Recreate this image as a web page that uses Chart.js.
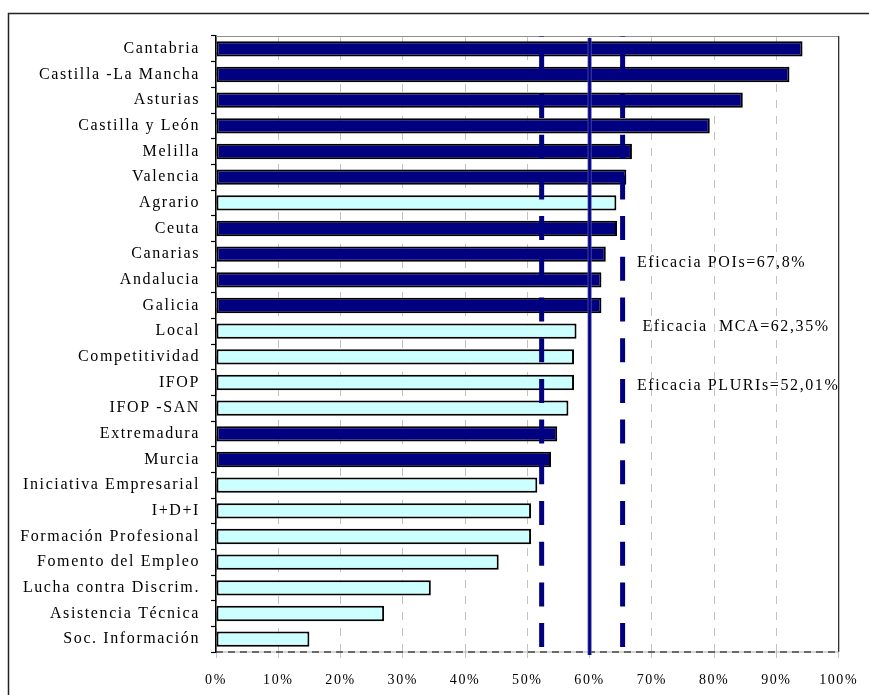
<!DOCTYPE html>
<html>
<head>
<meta charset="utf-8">
<script src="https://cdn.jsdelivr.net/npm/chart.js@4/dist/chart.umd.min.js"></script>
<style>
  html,body{margin:0;padding:0;background:#fff;}
  #wrap{position:relative;width:869px;height:695px;}
</style>
</head>
<body>
<div id="wrap"><canvas id="c"></canvas></div>
<script>
// ---- data ----
const categories = ['Cantabria','Castilla -La Mancha','Asturias','Castilla y León','Melilla','Valencia','Agrario','Ceuta','Canarias','Andalucia','Galicia','Local','Competitividad','IFOP','IFOP -SAN','Extremadura','Murcia','Iniciativa Empresarial','I+D+I','Formación Profesional','Fomento del Empleo','Lucha contra Discrim.','Asistencia Técnica','Soc. Información'];
const values = [94.2, 92.1, 84.6, 79.3, 66.8, 65.9, 64.3, 64.4, 62.6, 61.9, 61.9, 57.9, 57.5, 57.5, 56.6, 54.8, 53.8, 51.6, 50.6, 50.6, 45.4, 34.5, 27.0, 15.0];
const groups = ['R','R','R','R','R','R','T','R','R','R','R','T','T','T','T','R','R','T','T','T','T','T','T','T'];
const solidLineValue = 60;
const dashedLineValues = [52.3, 65.3];
const annotationTexts = ['Eficacia POIs=67,8%', 'Eficacia  MCA=62,35%', 'Eficacia PLURIs=52,01%'];

const NAVY = '#000080', CYAN = '#CCFFFF';
const FONT = '"Liberation Serif", "Times New Roman", serif';

const framePlugin = {
  id: 'frame',
  beforeDraw(chart) {
    const c = chart.ctx;
    c.save();
    c.fillStyle = '#fff';
    c.fillRect(0, 0, chart.width, chart.height);
    c.strokeStyle = '#222';
    c.lineWidth = 1.5;
    c.strokeRect(8.5, 13.5, chart.width + 40, chart.height + 40);
    c.restore();
    c.letterSpacing = '1.6px';
  },
  afterDatasetsDraw(chart) {
    const c = chart.ctx;
    const xs = chart.scales.x;
    const {top, bottom, left, right} = chart.chartArea;
    c.save();
    // plot frame
    c.strokeStyle = '#909090'; c.lineWidth = 1;
    c.beginPath(); c.moveTo(left, top + 0.5); c.lineTo(right, top + 0.5); c.stroke();
    c.strokeStyle = '#303030'; c.lineWidth = 1.3;
    c.beginPath(); c.moveTo(right, top); c.lineTo(right, bottom); c.stroke();
    c.strokeStyle = '#b0b0b0'; c.lineWidth = 1.2;
    c.beginPath(); c.moveTo(left, bottom); c.lineTo(right, bottom); c.stroke();
    c.strokeStyle = '#000'; c.setLineDash([7, 5]);
    c.beginPath(); c.moveTo(left, bottom); c.lineTo(right, bottom); c.stroke();
    // dashed reference lines
    c.setLineDash([24, 16.7]);
    c.lineDashOffset = 23.4;
    c.strokeStyle = NAVY; c.lineWidth = 5;
    dashedLineValues.forEach(v => {
      const px = xs.getPixelForValue(v);
      c.beginPath(); c.moveTo(px, top); c.lineTo(px, bottom); c.stroke();
    });
    // solid reference line
    c.setLineDash([]);
    const sx = xs.getPixelForValue(solidLineValue);
    c.strokeStyle = '#5050b0'; c.lineWidth = 4;
    c.beginPath(); c.moveTo(sx, top + 2); c.lineTo(sx, bottom + 3); c.stroke();
    c.strokeStyle = NAVY; c.lineWidth = 2.4;
    c.beginPath(); c.moveTo(sx, top + 2); c.lineTo(sx, bottom + 3); c.stroke();
    // annotations
    c.fillStyle = '#000';
    c.font = '16px ' + FONT;
    c.textBaseline = 'middle';
    c.textAlign = 'left';
    const pos = [[421, 227], [426.5, 291], [421, 350]];
    annotationTexts.forEach((t, i) => {
      c.fillText(t, left + pos[i][0], top + pos[i][1]);
    });
    c.restore();
  }
};

new Chart(document.getElementById('c'), {
  type: 'bar',
  data: {
    labels: categories,
    datasets: [{
      data: values,
      backgroundColor: groups.map(g => g === 'R' ? NAVY : CYAN),
      borderColor: '#000',
      borderWidth: 2,
      borderSkipped: false,
      barPercentage: 0.6,
      categoryPercentage: 1
    }]
  },
  options: {
    indexAxis: 'y',
    responsive: true,
    maintainAspectRatio: false,
    animation: false,
    devicePixelRatio: 1,
    layout: { padding: { left: 0, top: 36, right: 30, bottom: 0 } },
    plugins: { legend: { display: false }, tooltip: { enabled: false } },
    scales: {
      x: {
        min: 0, max: 100,
        afterFit(s) { s.height = 43; },
        ticks: {
          stepSize: 10,
          callback: v => v + '%',
          color: '#000',
          font: { family: FONT, size: 14 },
          padding: 14,
          maxRotation: 0
        },
        grid: {
          color: '#c4c4c4', lineWidth: 1,
          drawTicks: true, tickLength: 6, tickColor: '#c4c4c4'
        },
        border: { display: false, dash: [8, 8] }
      },
      y: {
        afterFit(s) { s.width = 216; },
        ticks: {
          color: '#000',
          font: { family: FONT, size: 16 },
          padding: 11,
          autoSkip: false
        },
        grid: {
          display: true, drawOnChartArea: false, offset: true,
          drawTicks: true, tickLength: 5, color: '#000', tickColor: '#000', tickWidth: 1.2
        },
        border: { display: true, color: '#000', width: 1.5 }
      }
    }
  },
  plugins: [framePlugin]
});
</script>
</body>
</html>
